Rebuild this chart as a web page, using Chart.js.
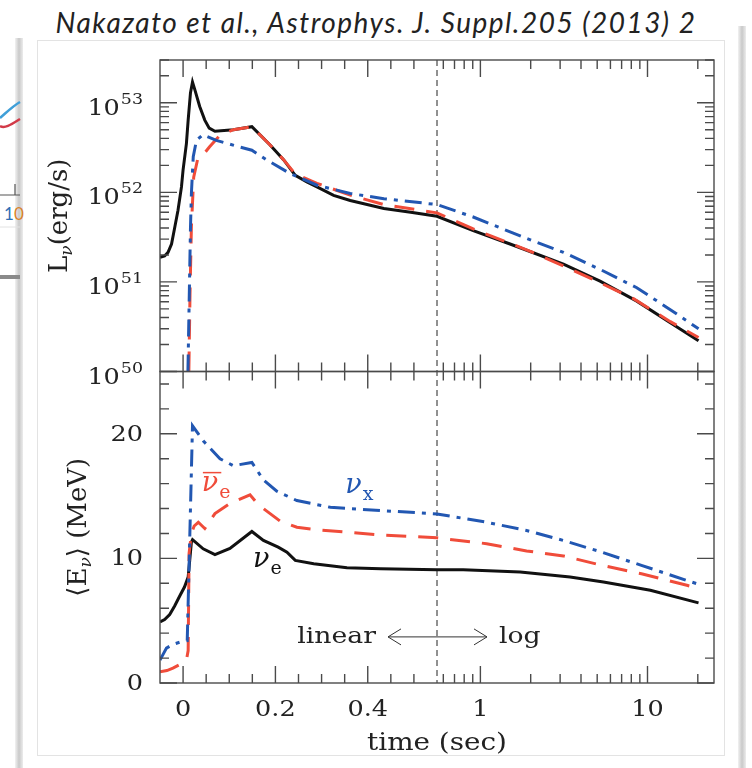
<!DOCTYPE html>
<html>
<head>
<meta charset="utf-8">
<script src="https://cdn.jsdelivr.net/npm/chart.js@4.4.0/dist/chart.umd.min.js"></script>
<style>
  html, body { margin: 0; padding: 0; background: #fff; }
  #page { position: relative; width: 752px; height: 768px; overflow: hidden; background: #fff; }
  #heading { position: absolute; left: 0; top: 5px; width: 752px; text-align: center;
    font: italic 400 28px Lato, "Open Sans", sans-serif; letter-spacing: 1.5px; color: #222; line-height: 34px; }
  .strip { position: absolute; width: 8px; background: linear-gradient(to right, #f2f2f2, #c9c9c9, #ececec); }
  #box { position: absolute; left: 37px; top: 40px; width: 686px; height: 714px; border: 1px solid #e3e3e3; background: #fff; }
  #frag { position: absolute; left: 0; top: 0; }
  #chart { position: absolute; left: 0; top: 0; }
</style>
</head>
<body>
<div id="page">
  <div class="strip" style="left:15px; top:38px; height:730px;"></div>
  <div class="strip" style="left:738px; top:26px; height:742px;"></div>
  <svg id="frag" width="30" height="300">
    <path d="M0,118 C7,112 13,106 20,102" stroke="#3f9fd8" stroke-width="2.5" fill="none"/>
    <path d="M0,126 C5,129 12,124 20,119" stroke="#d23a48" stroke-width="2.5" fill="none"/>
    <path d="M15,184 L15,195 M0,195 L20,195" stroke="#555" stroke-width="1.2" fill="none"/>
    <text x="4" y="220" font-family="Lato, sans-serif" font-size="17" fill="#2e6fb5">1<tspan fill="#d9822b">0</tspan></text>
    <path d="M0,227 L20,227" stroke="#e2e2e2" stroke-width="1"/>
    <path d="M0,277 L20,277" stroke="#8a8a8a" stroke-width="4"/>
  </svg>
  <div id="box"></div>
  <div id="heading">Nakazato et al., Astrophys. J. Suppl.205 (2013) 2</div>
  <canvas id="chart" width="752" height="768"></canvas>
</div>
<script>
// ---- time axis: linear up to the break, logarithmic after it
const breakTime = 0.55;
const timeMin = -0.05;
const timeMax = 25;
const xMajorTicks = [0, 0.2, 0.4, 1, 10];
const xMinorTicks = [0.05, 0.1, 0.15, 0.25, 0.3, 0.35, 0.45, 0.5,
  0.6, 0.7, 0.8, 0.9, 2, 3, 4, 5, 6, 7, 8, 9, 20];
const lumDecades = [50, 51, 52, 53];
const energyMajorTicks = [0, 10, 20];
const energyMinorTicks = [2, 4, 6, 8, 12, 14, 16, 18, 22, 24];

// ---- luminosity L (erg/s)
const lumTimeNuE = [-0.05, -0.04, -0.0326, -0.025, -0.018, -0.011, -0.0035, 0, 0.0072, 0.011, 0.016, 0.0204,
  0.0254, 0.036, 0.047, 0.0566, 0.069, 0.109, 0.149, 0.188, 0.218, 0.243, 0.268, 0.29, 0.326, 0.362, 0.435,
  0.493, 0.55, 0.906, 1.505, 3.14, 5.2, 8.63, 13.7, 20.2];
const lumNuE = [1.88e51, 1.95e51, 2.14e51, 2.65e51, 4.07e51, 6.3e51, 1.15e52, 1.78e52, 3.5e52, 6.4e52, 1.29e53, 1.7e53,
  1.4e53, 9.1e52, 6.4e52, 5.2e52, 4.8e52, 5.0e52, 5.4e52, 3.4e52, 2.3e52, 1.55e52, 1.31e52, 1.15e52, 9.25e51, 8.1e51, 6.6e51,
  6.0e51, 5.4e51, 3.74e51, 2.65e51, 1.58e51, 1.02e51, 6.1e50, 3.5e50, 2.2e50];

const lumTimeNuEBar = [0.0125, 0.015, 0.018, 0.023, 0.032, 0.043, 0.057, 0.079, 0.109, 0.149, 0.188, 0.218,
  0.243, 0.29, 0.362, 0.435, 0.55, 0.906, 1.94, 3.14, 5.2, 8.24, 13.7, 20.2];
const lumNuEBar = [1e50, 7.2e50, 4.1e51, 1.48e52, 2.4e52, 2.6e52, 3.2e52, 4.3e52, 5.0e52, 5.4e52, 3.4e52, 2.3e52,
  1.6e52, 1.26e52, 9.3e51, 7.3e51, 5.9e51, 3.9e51, 2.24e51, 1.51e51, 9.8e50, 6.5e50, 3.6e50, 2.4e50];

const lumTimeNuX = [0.0105, 0.016, 0.018, 0.022, 0.029, 0.043, 0.072, 0.123, 0.149, 0.181, 0.232, 0.29,
  0.362, 0.435, 0.55, 0.906, 1.94, 3.14, 5.2, 8.63, 13.7, 20.2];
const lumNuX = [1e50, 4e51, 9.7e51, 2.5e52, 3.8e52, 4.4e52, 3.8e52, 3.2e52, 2.95e52, 2.3e52, 1.62e52, 1.2e52,
  9.7e51, 8.5e51, 7.3e51, 5.3e51, 3.0e51, 2.14e51, 1.38e51, 8.6e50, 4.9e50, 3.0e50];

// ---- mean energy <E> (MeV)
const engTimeNuE = [-0.05, -0.04, -0.029, -0.018, -0.007, 0.003, 0.011, 0.018, 0.0205, 0.0435, 0.069, 0.1015,
  0.149, 0.174, 0.206, 0.225, 0.243, 0.283, 0.355, 0.428, 0.55, 0.79, 1.73, 3.44, 5.45, 10.4, 20.2];
const engNuE = [4.9, 5.1, 5.5, 6.2, 7.0, 7.7, 8.5, 11.3, 11.5, 10.77, 10.3, 10.8,
  12.16, 11.44, 10.9, 10.5, 9.84, 9.57, 9.25, 9.17, 9.09, 9.09, 8.9, 8.5, 8.1, 7.44, 6.43];

const engTimeNuEBar = [-0.05, -0.035, -0.022, -0.0035, 0.008, 0.011, 0.013, 0.018, 0.024, 0.033, 0.047, 0.069,
  0.1015, 0.145, 0.163, 0.21, 0.2465, 0.29, 0.355, 0.42, 0.55, 1.09, 1.89, 3.14, 5.33, 9.2, 17.2, 20.2];
const engNuEBar = [0.9, 1.0, 1.2, 1.55, 2.0, 2.6, 10.4, 12.0, 12.6, 12.9, 12.4, 13.6,
  14.4, 15.1, 14.3, 13.0, 12.5, 12.3, 12.1, 11.9, 11.65, 11.18, 10.6, 10.2, 9.44, 8.77, 7.84, 7.6];

const engTimeNuX = [-0.05, -0.036, -0.022, -0.005, 0.009, 0.0204, 0.0435, 0.08, 0.109, 0.149, 0.174, 0.203,
  0.2465, 0.319, 0.428, 0.55, 1.09, 1.89, 3.14, 5.33, 9.2, 20.2];
const engNuX = [1.84, 2.8, 3.1, 3.3, 3.4, 20.64, 19.44, 18.0, 17.44, 17.7, 16.3, 15.4,
  14.64, 14.1, 13.84, 13.57, 12.9, 12.24, 11.44, 10.5, 9.44, 7.92];

const black = '#111111';
const red = '#f04c3a';
const blue = '#2257b2';
const axisColor = '#4a4a4a';
const textColor = '#222';
const serif = '"DejaVu Serif", serif';
const SX = 1.16; // the figure's lettering is a little wider than DejaVu

function pairs(ts, vs) {
  return ts.map((t, i) => ({ x: t, y: vs[i] }));
}

// linear below breakTime, log10 above; each part takes half the width
class LinLogScale extends Chart.Scale {
  static id = 'linlog';
  static defaults = {};
  determineDataLimits() {
    this.min = this.options.min;
    this.max = this.options.max;
  }
  buildTicks() {
    return xMajorTicks.map(v => ({ value: v }));
  }
  fraction(v) {
    const b = this.options.breakAt;
    if (v <= b) return 0.5 * (v - this.min) / (b - this.min);
    return 0.5 + 0.5 * Math.log10(v / b) / Math.log10(this.max / b);
  }
  getPixelForValue(v) {
    return this.getPixelForDecimal(this.fraction(v));
  }
  getValueForPixel(p) {
    const d = this.getDecimalForPixel(p);
    const b = this.options.breakAt;
    if (d <= 0.5) return this.min + (b - this.min) * d / 0.5;
    return b * Math.pow(this.max / b, (d - 0.5) / 0.5);
  }
  getLabelForValue(v) {
    return String(v);
  }
}
Chart.register(LinLogScale);

function lineSet(label, data, color, dash, axis) {
  return {
    label, data, yAxisID: axis,
    borderColor: color, borderWidth: 3, borderDash: dash,
    pointRadius: 0, tension: 0, fill: false
  };
}

// text drawn a bit wider than the font, anchored at (x, y)
function wideText(ctx, text, x, y, align, font) {
  ctx.save();
  ctx.font = font;
  ctx.textAlign = align;
  ctx.translate(x, y);
  ctx.scale(SX, 1);
  ctx.fillText(text, 0, 0);
  const w = ctx.measureText(text).width * SX;
  ctx.restore();
  return w;
}

function drawParts(ctx, parts, cx, cy, color) {
  // parts: [text, font, dy]; centred on cx
  let total = 0;
  parts.forEach(p => { ctx.font = p[1]; total += ctx.measureText(p[0]).width; });
  let x = cx - total / 2;
  ctx.fillStyle = color;
  ctx.textAlign = 'left';
  ctx.textBaseline = 'alphabetic';
  parts.forEach(p => {
    ctx.font = p[1];
    ctx.fillText(p[0], x, cy + p[2]);
    x += ctx.measureText(p[0]).width;
  });
}

function nuLabel(ctx, x, y, sub, color, bar) {
  ctx.fillStyle = color;
  ctx.strokeStyle = color;
  ctx.textAlign = 'left';
  ctx.textBaseline = 'alphabetic';
  ctx.font = 'italic 27px ' + serif;
  const w = ctx.measureText('\u03bd').width;
  ctx.fillText('\u03bd', x, y);
  ctx.font = '19px ' + serif;
  ctx.fillText(sub, x + w + 1, y + 7);
  if (bar) {
    ctx.lineWidth = 1.5;
    ctx.setLineDash([]);
    ctx.beginPath();
    ctx.moveTo(x + 1, y - 18);
    ctx.lineTo(x + w + 3, y - 18);
    ctx.stroke();
  }
}

const panelDecor = {
  id: 'panelDecor',
  beforeDatasetsDraw(chart) {
    const { ctx, chartArea: a, scales: { x } } = chart;
    const bx = x.getPixelForValue(breakTime);
    ctx.save();
    ctx.strokeStyle = '#222';
    ctx.lineWidth = 1;
    ctx.setLineDash([6, 4]);
    ctx.beginPath();
    ctx.moveTo(bx, a.top);
    ctx.lineTo(bx, a.bottom);
    ctx.stroke();
    ctx.restore();
  },
  afterDraw(chart) {
    const { ctx, chartArea: a, scales: { x, yL, yE } } = chart;
    const MAJ = 17, MIN = 9;
    ctx.save();
    ctx.strokeStyle = axisColor;
    ctx.lineWidth = 1.4;
    ctx.setLineDash([]);
    for (const s of [yL, yE]) ctx.strokeRect(a.left, s.top, a.right - a.left, s.bottom - s.top);

    ctx.beginPath();
    const seg = (x0, y0, x1, y1) => { ctx.moveTo(x0, y0); ctx.lineTo(x1, y1); };
    for (const s of [yL, yE]) {
      xMajorTicks.forEach(v => { const p = x.getPixelForValue(v); seg(p, s.top, p, s.top + MAJ); seg(p, s.bottom, p, s.bottom - MAJ); });
      xMinorTicks.forEach(v => { const p = x.getPixelForValue(v); seg(p, s.top, p, s.top + MIN); seg(p, s.bottom, p, s.bottom - MIN); });
    }
    lumDecades.forEach(d => {
      const p = yL.getPixelForValue(Math.pow(10, d));
      seg(a.left, p, a.left + MAJ, p); seg(a.right, p, a.right - MAJ, p);
      for (let m = 2; m <= 9; m++) {
        const v = m * Math.pow(10, d);
        if (v > yL.max) break;
        const q = yL.getPixelForValue(v);
        seg(a.left, q, a.left + MIN, q); seg(a.right, q, a.right - MIN, q);
      }
    });
    energyMajorTicks.forEach(v => { const p = yE.getPixelForValue(v); seg(a.left, p, a.left + MAJ, p); seg(a.right, p, a.right - MAJ, p); });
    energyMinorTicks.forEach(v => { const p = yE.getPixelForValue(v); seg(a.left, p, a.left + MIN, p); seg(a.right, p, a.right - MIN, p); });
    ctx.stroke();

    ctx.fillStyle = textColor;
    // x tick labels and title
    ctx.textBaseline = 'middle';
    xMajorTicks.forEach(v => wideText(ctx, String(v), x.getPixelForValue(v), a.bottom + 27, 'center', '22px ' + serif));
    wideText(ctx, 'time (sec)', x.getPixelForValue(breakTime), a.bottom + 61, 'center', '24px ' + serif);
    // energy tick labels
    energyMajorTicks.forEach(v => wideText(ctx, String(v), 143, yE.getPixelForValue(v) + 1, 'right', '22px ' + serif));

    // 10^n labels of the luminosity axis
    ctx.textBaseline = 'alphabetic';
    lumDecades.forEach(d => {
      const p = yL.getPixelForValue(Math.pow(10, d));
      const ew = wideText(ctx, String(d), 143, p + 1, 'right', '15px ' + serif);
      wideText(ctx, '10', 143 - ew - 1, p + 12, 'right', '22px ' + serif);
    });

    // axis titles (rotated, with subscript nu)
    ctx.save();
    ctx.translate(58, (yL.top + yL.bottom) / 2);
    ctx.rotate(-Math.PI / 2);
    drawParts(ctx, [['L', '26px ' + serif, 9], ['\u03bd', 'italic 17px ' + serif, 14], ['(erg/s)', '26px ' + serif, 9]], 0, 0, textColor);
    ctx.restore();
    ctx.save();
    ctx.translate(77, (yE.top + yE.bottom) / 2);
    ctx.rotate(-Math.PI / 2);
    drawParts(ctx, [['\u27e8E', '26px ' + serif, 9], ['\u03bd', 'italic 17px ' + serif, 14], ['\u27e9 (MeV)', '26px ' + serif, 9]], 0, 0, textColor);
    ctx.restore();

    // species labels
    nuLabel(ctx, x.getPixelForValue(0.0407), yE.getPixelForValue(15.44), 'e', red, true);
    nuLabel(ctx, x.getPixelForValue(0.3515), yE.getPixelForValue(15.28), 'x', blue, false);
    nuLabel(ctx, x.getPixelForValue(0.1515), yE.getPixelForValue(9.28), 'e', black, false);

    // linear <-> log note at the break
    const bx = x.getPixelForValue(breakTime);
    const ay = yE.getPixelForValue(3.7);
    ctx.fillStyle = textColor;
    ctx.textBaseline = 'middle';
    wideText(ctx, 'linear', bx - 61, ay, 'right', '23px ' + serif);
    wideText(ctx, 'log', bx + 62, ay, 'left', '23px ' + serif);
    ctx.strokeStyle = '#333';
    ctx.lineWidth = 1;
    ctx.beginPath();
    seg(bx - 49, ay, bx + 50, ay);
    seg(bx - 49, ay, bx - 36, ay - 8); seg(bx - 49, ay, bx - 36, ay + 8);
    seg(bx + 50, ay, bx + 37, ay - 8); seg(bx + 50, ay, bx + 37, ay + 8);
    ctx.stroke();
    ctx.restore();
  }
};

new Chart(document.getElementById('chart'), {
  type: 'line',
  data: {
    datasets: [
      lineSet('nu_x L', pairs(lumTimeNuX, lumNuX), blue, [17, 7, 4, 7], 'yL'),
      lineSet('anti nu_e L', pairs(lumTimeNuEBar, lumNuEBar), red, [20, 12], 'yL'),
      lineSet('nu_e L', pairs(lumTimeNuE, lumNuE), black, [], 'yL'),
      lineSet('nu_x E', pairs(engTimeNuX, engNuX), blue, [17, 7, 4, 7], 'yE'),
      lineSet('anti nu_e E', pairs(engTimeNuEBar, engNuEBar), red, [20, 12], 'yE'),
      lineSet('nu_e E', pairs(engTimeNuE, engNuE), black, [], 'yE')
    ]
  },
  options: {
    responsive: false,
    animation: false,
    layout: { padding: { top: 60, right: 38, left: 0, bottom: 0 } },
    plugins: { legend: { display: false }, tooltip: { enabled: false } },
    scales: {
      x: {
        type: 'linlog', position: 'bottom',
        min: timeMin, max: timeMax, breakAt: breakTime,
        grid: { display: false, drawTicks: false }, border: { display: false },
        ticks: { display: false, autoSkip: false, maxRotation: 0, minRotation: 0 },
        afterFit: s => { s.height = 85; }
      },
      // left boxes are stacked in reverse order: the scale listed last sits on top
      yE: {
        type: 'linear', position: 'left', stack: 'panels', stackWeight: 1,
        min: 0, max: 25,
        grid: { display: false, drawTicks: false }, border: { display: false },
        ticks: { display: false },
        afterFit: s => { s.width = 160; }
      },
      yL: {
        type: 'logarithmic', position: 'left', stack: 'panels', stackWeight: 1,
        min: 1e50, max: 3e53,
        grid: { display: false, drawTicks: false }, border: { display: false },
        ticks: { display: false },
        afterFit: s => { s.width = 160; }
      }
    }
  },
  plugins: [panelDecor]
});
</script>
</body>
</html>
